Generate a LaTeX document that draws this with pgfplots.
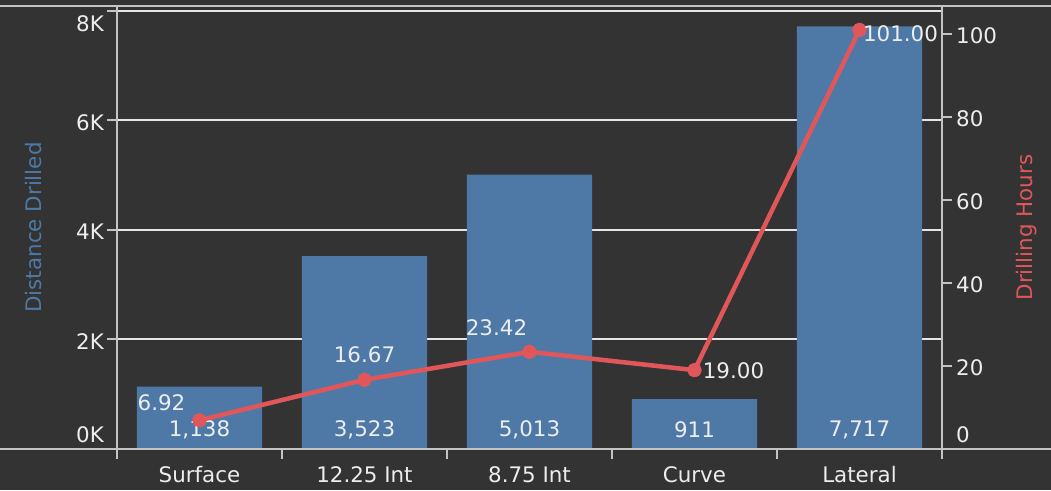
\documentclass[border=0pt]{standalone}
\usepackage{fontspec}
\setmainfont{DejaVu Sans}
\usepackage{pgfplots}
\usepackage{pgfplotstable}
\pgfplotsset{compat=1.18}
\pgfkeys{/pgf/number format/assume math mode=true}

\definecolor{bg}{HTML}{333333}
\definecolor{barblue}{HTML}{4E79A7}
\definecolor{linered}{HTML}{E15759}
\definecolor{txt}{HTML}{EDEDED}
\definecolor{gridc}{HTML}{E6E6E6}
\definecolor{axisc}{HTML}{C4C4C4}

% section, distance drilled, drilling hours, label offsets for the hours
\pgfplotstableread{
x dist hours dx dy
0 1138 6.92 -38 18
1 3523 16.67 0 25
2 5013 23.42 -33 24
3 911 19.00 39 -1
4 7717 101.00 41 -4
}\drilldata

\begin{document}
\begin{tikzpicture}[font=\fontsize{21.4}{25}\selectfont]
\fill[bg, use as bounding box] (0,0) rectangle (1051pt,490pt);

% distance drilled (bars, left axis)
\begin{axis}[
  at={(117pt,41pt)}, anchor=south west,
  width=825pt, height=443pt, scale only axis,
  xmin=-0.5, xmax=4.5, ymin=0, ymax=8091,
  axis x line*=bottom, axis y line*=left,
  x axis line style={draw=none},
  y axis line style={axisc, line width=2pt},
  xtick={0,...,4},
  xticklabels={Surface,12.25 Int,8.75 Int,Curve,Lateral},
  every major x tick/.append style={draw=none},
  minor xtick={-0.5,0.5,1.5,2.5,3.5,4.5},
  minor x tick style={axisc, line width=2pt},
  minor tick length=10pt,
  ytick={0,2000,4000,6000,8000},
  yticklabels={\raisebox{16.5pt}{0K},2K,4K,6K,\raisebox{-10.5pt}{8K}},
  major tick length=10pt,
  tick align=outside,
  y tick style={axisc, line width=2pt},
  ymajorgrids, major grid style={gridc, line width=2pt},
  xticklabel style={anchor=base, inner sep=0pt, yshift=-23pt, text=txt},
  yticklabel style={anchor=base east, inner sep=0pt, xshift=-3pt, yshift=-9.8pt, text=txt},
  ylabel={Distance Drilled},
  ylabel style={at={(rel axis cs:-0.1006,0.5)}, anchor=center, text=barblue},
]
\addplot[ybar, bar width=0.758, fill=barblue, draw=none] table[x=x, y=dist]{\drilldata};
\addplot[draw=none, mark=none, point meta=explicit,
  nodes near coords={\pgfmathprintnumber[fixed,precision=0,1000 sep={,}]{\pgfplotspointmeta}},
  every node near coord/.append style={anchor=center, yshift=19pt, text=txt}]
  table[x=x, y expr=0, meta=dist]{\drilldata};
\end{axis}

% drilling hours (line, right axis)
\begin{axis}[
  at={(117pt,41pt)}, anchor=south west,
  width=825pt, height=443pt, scale only axis,
  xmin=-0.5, xmax=4.5, ymin=0, ymax=106.75,
  axis x line=none, axis y line*=right,
  y axis line style={axisc, line width=2pt},
  ytick={0,20,40,60,80,100},
  yticklabels={\raisebox{16.5pt}{0},20,40,60,80,100},
  tick align=outside, major tick length=10pt,
  y tick style={axisc, line width=2pt},
  yticklabel style={anchor=base west, inner sep=0pt, xshift=4pt, yshift=-9.8pt, text=txt},
  ylabel={Drilling Hours},
  ylabel style={at={(rel axis cs:1.1027,0.5)}, anchor=center, text=linered},
  clip=false,
]
\addplot[linered, line width=4.5pt, line join=round, mark=*, mark size=5pt,
  mark options={fill=linered, draw=none}, point meta=explicit,
  visualization depends on={\thisrow{dx} \as \ldx},
  visualization depends on={\thisrow{dy} \as \ldy},
  nodes near coords={\pgfmathprintnumber[fixed,fixed zerofill,precision=2]{\pgfplotspointmeta}},
  every node near coord/.append style={anchor=center, xshift=\ldx pt, yshift=\ldy pt, text=txt}]
  table[x=x, y=hours, meta=hours]{\drilldata};
\end{axis}

\draw[axisc, line width=2pt] (0,41pt) -- (1051pt,41pt);
\draw[axisc, line width=2pt] (0,484pt) -- (1051pt,484pt);
\end{tikzpicture}
\end{document}
